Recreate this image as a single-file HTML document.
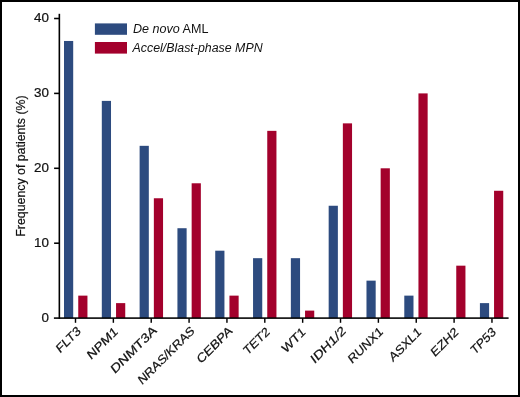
<!DOCTYPE html>
<html><head><meta charset="utf-8"><style>
html,body{margin:0;padding:0;background:#fff;}
body{width:520px;height:397px;overflow:hidden;position:relative;}
#frame{position:absolute;left:0;top:0;width:516px;height:393px;border:2px solid #000;background:#fff;}
svg{position:absolute;left:0;top:0;will-change:transform;opacity:0.999;}
text{font-family:"Liberation Sans",sans-serif;fill:#111;stroke:#111;stroke-width:0.22px;}
.yt{font-size:13.4px;}
.xt{font-size:12px;}
.lg{font-size:12px;stroke:none;}
.yl{font-size:13.5px;}
</style></head><body>
<div id="frame"></div>
<svg width="520" height="397" viewBox="0 0 520 397">
<rect x="64.00" y="40.97" width="9.2" height="277.13" fill="#2d4b7f"/>
<rect x="78.25" y="295.63" width="9.2" height="22.47" fill="#a3002c"/>
<rect x="101.81" y="100.89" width="9.2" height="217.21" fill="#2d4b7f"/>
<rect x="116.05" y="303.12" width="9.2" height="14.98" fill="#a3002c"/>
<rect x="139.62" y="145.83" width="9.2" height="172.27" fill="#2d4b7f"/>
<rect x="153.85" y="198.26" width="9.2" height="119.84" fill="#a3002c"/>
<rect x="177.43" y="228.22" width="9.2" height="89.88" fill="#2d4b7f"/>
<rect x="191.65" y="183.28" width="9.2" height="134.82" fill="#a3002c"/>
<rect x="215.24" y="250.69" width="9.2" height="67.41" fill="#2d4b7f"/>
<rect x="229.45" y="295.63" width="9.2" height="22.47" fill="#a3002c"/>
<rect x="253.05" y="258.18" width="9.2" height="59.92" fill="#2d4b7f"/>
<rect x="267.25" y="130.85" width="9.2" height="187.25" fill="#a3002c"/>
<rect x="290.86" y="258.18" width="9.2" height="59.92" fill="#2d4b7f"/>
<rect x="305.05" y="310.61" width="9.2" height="7.49" fill="#a3002c"/>
<rect x="328.67" y="205.75" width="9.2" height="112.35" fill="#2d4b7f"/>
<rect x="342.85" y="123.36" width="9.2" height="194.74" fill="#a3002c"/>
<rect x="366.48" y="280.65" width="9.2" height="37.45" fill="#2d4b7f"/>
<rect x="380.65" y="168.30" width="9.2" height="149.80" fill="#a3002c"/>
<rect x="404.29" y="295.63" width="9.2" height="22.47" fill="#2d4b7f"/>
<rect x="418.45" y="93.40" width="9.2" height="224.70" fill="#a3002c"/>
<rect x="456.25" y="265.67" width="9.2" height="52.43" fill="#a3002c"/>
<rect x="479.91" y="303.12" width="9.2" height="14.98" fill="#2d4b7f"/>
<rect x="494.05" y="190.77" width="9.2" height="127.33" fill="#a3002c"/>
<rect x="58.55" y="13.8" width="1.6" height="305" fill="#000"/>
<rect x="53.9" y="317.32" width="454.7" height="1.56" fill="#000"/>
<text x="49" y="321.65" text-anchor="end" class="yt">0</text>
<rect x="54.1" y="242.42" width="5" height="1.56" fill="#000"/>
<text x="49" y="246.75" text-anchor="end" class="yt">10</text>
<rect x="54.1" y="167.52" width="5" height="1.56" fill="#000"/>
<text x="49" y="171.85" text-anchor="end" class="yt">20</text>
<rect x="54.1" y="92.62" width="5" height="1.56" fill="#000"/>
<text x="49" y="96.95" text-anchor="end" class="yt">30</text>
<rect x="54.1" y="17.72" width="5" height="1.56" fill="#000"/>
<text x="49" y="22.05" text-anchor="end" class="yt">40</text>
<rect x="74.78" y="318.10" width="1.44" height="4.7" fill="#000"/>
<text transform="translate(81.40,332.26) rotate(-45) skewX(-9)" text-anchor="end" class="xt" textLength="30.28" lengthAdjust="spacingAndGlyphs">FLT3</text>
<rect x="112.64" y="318.10" width="1.44" height="4.7" fill="#000"/>
<text transform="translate(118.54,332.80) rotate(-45) skewX(-9)" text-anchor="end" class="xt" textLength="38.91" lengthAdjust="spacingAndGlyphs">NPM1</text>
<rect x="150.50" y="318.10" width="1.44" height="4.7" fill="#000"/>
<text transform="translate(157.30,331.72) rotate(-45) skewX(-9)" text-anchor="end" class="xt" textLength="60.10" lengthAdjust="spacingAndGlyphs">DNMT3A</text>
<rect x="188.36" y="318.10" width="1.44" height="4.7" fill="#000"/>
<text transform="translate(195.16,332.08) rotate(-45) skewX(-9)" text-anchor="end" class="xt" textLength="75.27" lengthAdjust="spacingAndGlyphs">NRAS/KRAS</text>
<rect x="226.22" y="318.10" width="1.44" height="4.7" fill="#000"/>
<text transform="translate(233.02,332.08) rotate(-45) skewX(-9)" text-anchor="end" class="xt" textLength="45.61" lengthAdjust="spacingAndGlyphs">CEBPA</text>
<rect x="264.08" y="318.10" width="1.44" height="4.7" fill="#000"/>
<text transform="translate(270.34,332.98) rotate(-45) skewX(-9)" text-anchor="end" class="xt" textLength="32.24" lengthAdjust="spacingAndGlyphs">TET2</text>
<rect x="301.94" y="318.10" width="1.44" height="4.7" fill="#000"/>
<text transform="translate(306.22,333.16) rotate(-45) skewX(-9)" text-anchor="end" class="xt" textLength="29.00" lengthAdjust="spacingAndGlyphs">WT1</text>
<rect x="339.80" y="318.10" width="1.44" height="4.7" fill="#000"/>
<text transform="translate(346.60,332.08) rotate(-45) skewX(-9)" text-anchor="end" class="xt" textLength="45.33" lengthAdjust="spacingAndGlyphs">IDH1/2</text>
<rect x="377.66" y="318.10" width="1.44" height="4.7" fill="#000"/>
<text transform="translate(383.56,332.80) rotate(-45) skewX(-9)" text-anchor="end" class="xt" textLength="44.58" lengthAdjust="spacingAndGlyphs">RUNX1</text>
<rect x="415.52" y="318.10" width="1.44" height="4.7" fill="#000"/>
<text transform="translate(421.96,333.16) rotate(-45) skewX(-9)" text-anchor="end" class="xt" textLength="41.02" lengthAdjust="spacingAndGlyphs">ASXL1</text>
<rect x="453.38" y="318.10" width="1.44" height="4.7" fill="#000"/>
<text transform="translate(459.10,333.16) rotate(-45) skewX(-9)" text-anchor="end" class="xt" textLength="34.34" lengthAdjust="spacingAndGlyphs">EZH2</text>
<rect x="491.24" y="318.10" width="1.44" height="4.7" fill="#000"/>
<text transform="translate(496.60,333.16) rotate(-45) skewX(-9)" text-anchor="end" class="xt" textLength="31.08" lengthAdjust="spacingAndGlyphs">TP53</text>
<rect x="94.9" y="23.4" width="32.1" height="11.4" fill="#2d4b7f"/>
<rect x="94.9" y="42.0" width="32.1" height="11.6" fill="#a3002c"/>
<text x="133" y="33.1" class="lg" textLength="75.4" lengthAdjust="spacingAndGlyphs"><tspan font-style="italic">De novo</tspan> AML</text>
<text x="132.6" y="51.5" class="lg" font-style="italic" textLength="130" lengthAdjust="spacingAndGlyphs">Accel/Blast-phase MPN</text>
<text transform="translate(24.5,236.7) rotate(-90)" class="yl" textLength="141.3" lengthAdjust="spacingAndGlyphs">Frequency of patients (%)</text>
</svg>
</body></html>
